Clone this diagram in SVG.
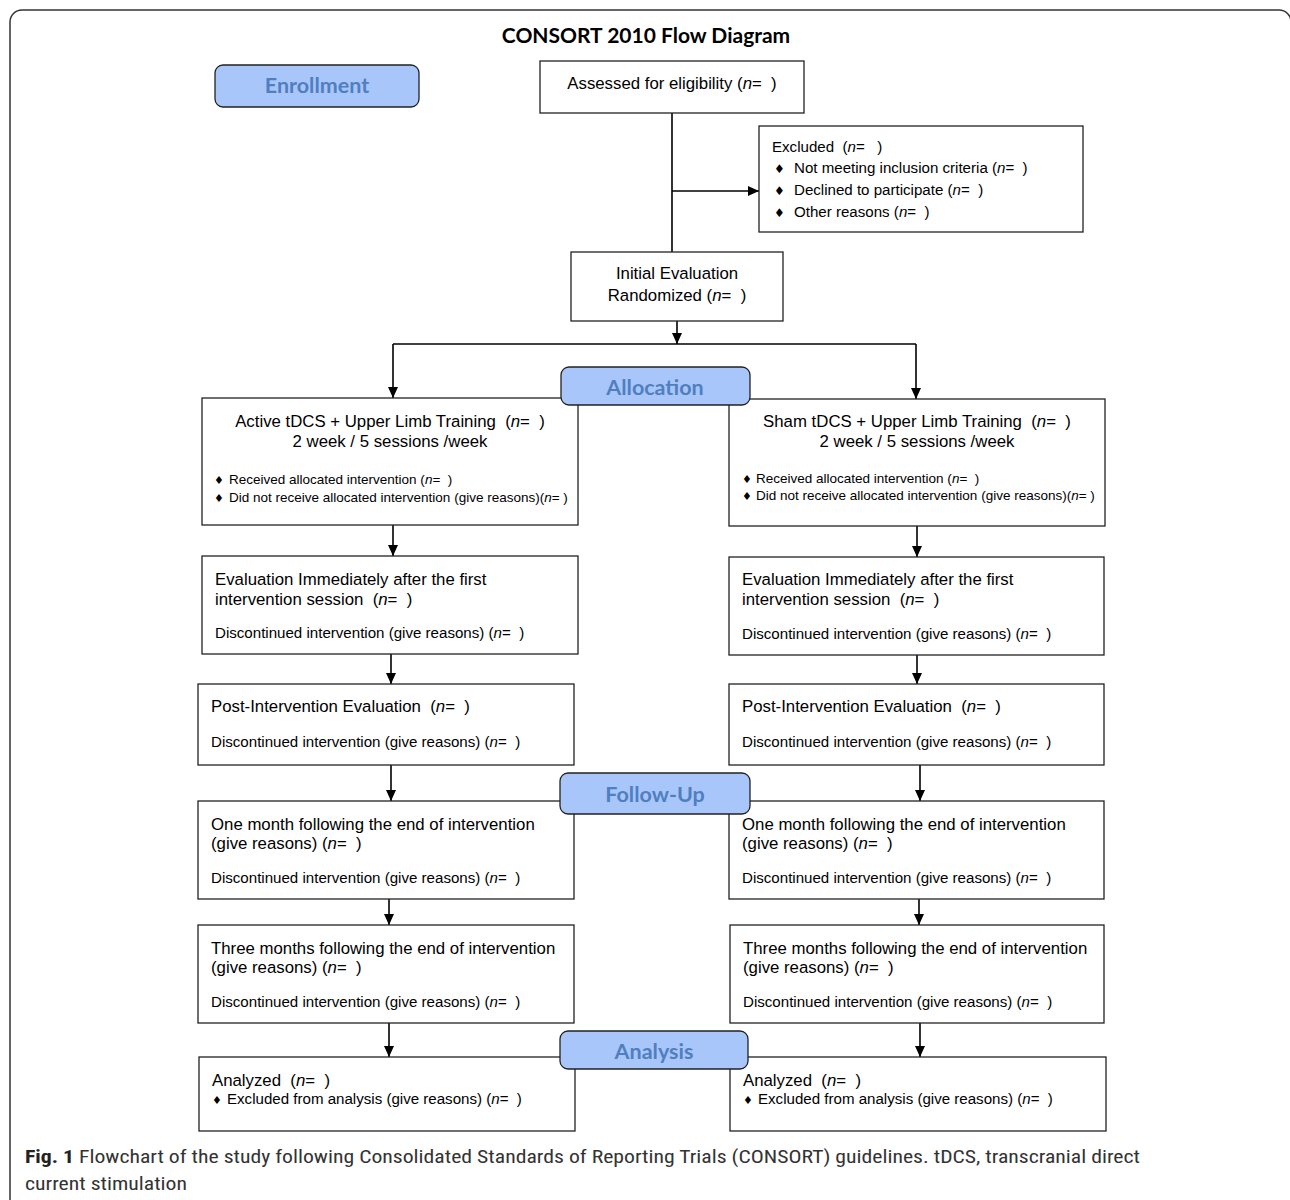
<svg xmlns="http://www.w3.org/2000/svg" width="1290" height="1200" viewBox="0 0 1290 1200">
<defs>
<marker id="ah" markerUnits="userSpaceOnUse" markerWidth="12" markerHeight="12" refX="11" refY="5" orient="auto">
<path d="M0,0 L11,5 L0,10 z" fill="#000"/>
</marker>
<style>
.box{fill:#fff;stroke:#222;stroke-width:1.3}
.lbl{fill:#a9c6fb;stroke:#222;stroke-width:1.3}
.lt{font-family:Lato,"Open Sans","Liberation Sans",sans-serif;font-weight:bold;font-size:21.5px;fill:#4f7fbf;text-anchor:middle}
.t16{font-family:"Liberation Sans",Arial,sans-serif;font-size:16.8px;fill:#000}
.t14{font-family:"Liberation Sans",Arial,sans-serif;font-size:15.1px;fill:#000}
.t13{font-family:"Liberation Sans",Arial,sans-serif;font-size:13.5px;fill:#000}
.c{text-anchor:middle}
.i{font-style:italic}
.d{font-family:"DejaVu Sans",sans-serif;font-size:12px}
.ds{font-family:"DejaVu Sans",sans-serif;font-size:11px}
.ln{fill:none;stroke:#000;stroke-width:1.6}
.cap{font-family:"Liberation Sans Narrow","Roboto Condensed","Open Sans","Liberation Sans",sans-serif;font-size:19px;fill:#333}
</style>
</defs>
<rect x="10" y="10" width="1281" height="1220" rx="12" fill="#fff" stroke="#333" stroke-width="1.5"/>
<text x="646" y="43" text-anchor="middle" font-family="Lato,'Open Sans','Liberation Sans',sans-serif" font-weight="bold" font-size="21" fill="#000">CONSORT 2010 Flow Diagram</text>

<g id="connectors">
<path class="ln" d="M672,113 V252"/>
<path class="ln" d="M672,191 H759" marker-end="url(#ah)"/>
<path class="ln" d="M677,321 V344" marker-end="url(#ah)"/>
<path class="ln" d="M393,344 H916"/>
<path class="ln" d="M393,344 V398" marker-end="url(#ah)"/>
<path class="ln" d="M916,344 V399" marker-end="url(#ah)"/>
<path class="ln" d="M393,525 V556" marker-end="url(#ah)"/>
<path class="ln" d="M917,526 V557" marker-end="url(#ah)"/>
<path class="ln" d="M391,654 V684" marker-end="url(#ah)"/>
<path class="ln" d="M917,655 V684" marker-end="url(#ah)"/>
<path class="ln" d="M391,765 V801" marker-end="url(#ah)"/>
<path class="ln" d="M920,765 V801" marker-end="url(#ah)"/>
<path class="ln" d="M389,899 V925" marker-end="url(#ah)"/>
<path class="ln" d="M919,899 V925" marker-end="url(#ah)"/>
<path class="ln" d="M389,1023 V1057" marker-end="url(#ah)"/>
<path class="ln" d="M920,1023 V1057" marker-end="url(#ah)"/>
</g>

<g id="assessed">
<rect class="box" x="540" y="61" width="264" height="52"/>
<text class="t16 c" x="672" y="89" xml:space="preserve">Assessed for eligibility (<tspan class="i">n</tspan>=  )</text>
</g>
<g id="excluded">
<rect class="box" x="759" y="126" width="324" height="106"/>
<text class="t14" x="772" y="152" xml:space="preserve">Excluded  (<tspan class="i">n</tspan>=   )</text>
<text class="t14" x="774" y="173" xml:space="preserve"><tspan class="d">♦</tspan><tspan x="794">Not meeting inclusion criteria (<tspan class="i">n</tspan>=  )</tspan></text>
<text class="t14" x="774" y="195" xml:space="preserve"><tspan class="d">♦</tspan><tspan x="794">Declined to participate (<tspan class="i">n</tspan>=  )</tspan></text>
<text class="t14" x="774" y="217" xml:space="preserve"><tspan class="d">♦</tspan><tspan x="794">Other reasons (<tspan class="i">n</tspan>=  )</tspan></text>
</g>
<g id="initial">
<rect class="box" x="571" y="252" width="212" height="69"/>
<text class="t16 c" x="677" y="279">Initial Evaluation</text>
<text class="t16 c" x="677" y="301" xml:space="preserve">Randomized (<tspan class="i">n</tspan>=  )</text>
</g>

<g id="active">
<rect class="box" x="202" y="398" width="376" height="127"/>
<text class="t16 c" x="390" y="427" xml:space="preserve">Active tDCS + Upper Limb Training  (<tspan class="i">n</tspan>=  )</text>
<text class="t16 c" x="390" y="447">2 week / 5 sessions /week</text>
<text class="t13" x="214" y="484" xml:space="preserve"><tspan class="ds">♦</tspan><tspan x="229">Received allocated intervention (<tspan class="i">n</tspan>=  )</tspan></text>
<text class="t13" x="214" y="502" xml:space="preserve"><tspan class="ds">♦</tspan><tspan x="229">Did not receive allocated intervention (give reasons)(<tspan class="i">n</tspan>= )</tspan></text>
</g>
<g id="sham">
<rect class="box" x="729" y="399" width="376" height="127"/>
<text class="t16 c" x="917" y="427" xml:space="preserve">Sham tDCS + Upper Limb Training  (<tspan class="i">n</tspan>=  )</text>
<text class="t16 c" x="917" y="447">2 week / 5 sessions /week</text>
<text class="t13" x="742" y="483" xml:space="preserve"><tspan class="ds">♦</tspan><tspan x="756">Received allocated intervention (<tspan class="i">n</tspan>=  )</tspan></text>
<text class="t13" x="742" y="500" xml:space="preserve"><tspan class="ds">♦</tspan><tspan x="756">Did not receive allocated intervention (give reasons)(<tspan class="i">n</tspan>= )</tspan></text>
</g>

<g id="eval-left">
<rect class="box" x="202" y="556" width="376" height="98"/>
<text class="t16" x="215" y="585">Evaluation Immediately after the first</text>
<text class="t16" x="215" y="605" xml:space="preserve">intervention session  (<tspan class="i">n</tspan>=  )</text>
<text class="t14" x="215" y="638" xml:space="preserve">Discontinued intervention (give reasons) (<tspan class="i">n</tspan>=  )</text>
</g>
<g id="eval-right">
<rect class="box" x="729" y="557" width="375" height="98"/>
<text class="t16" x="742" y="585">Evaluation Immediately after the first</text>
<text class="t16" x="742" y="605" xml:space="preserve">intervention session  (<tspan class="i">n</tspan>=  )</text>
<text class="t14" x="742" y="639" xml:space="preserve">Discontinued intervention (give reasons) (<tspan class="i">n</tspan>=  )</text>
</g>

<g id="post-left">
<rect class="box" x="198" y="684" width="376" height="81"/>
<text class="t16" x="211" y="712" xml:space="preserve">Post-Intervention Evaluation  (<tspan class="i">n</tspan>=  )</text>
<text class="t14" x="211" y="747" xml:space="preserve">Discontinued intervention (give reasons) (<tspan class="i">n</tspan>=  )</text>
</g>
<g id="post-right">
<rect class="box" x="729" y="684" width="375" height="81"/>
<text class="t16" x="742" y="712" xml:space="preserve">Post-Intervention Evaluation  (<tspan class="i">n</tspan>=  )</text>
<text class="t14" x="742" y="747" xml:space="preserve">Discontinued intervention (give reasons) (<tspan class="i">n</tspan>=  )</text>
</g>

<g id="month-left">
<rect class="box" x="198" y="801" width="376" height="98"/>
<text class="t16" x="211" y="830">One month following the end of intervention</text>
<text class="t16" x="211" y="849" xml:space="preserve">(give reasons) (<tspan class="i">n</tspan>=  )</text>
<text class="t14" x="211" y="883" xml:space="preserve">Discontinued intervention (give reasons) (<tspan class="i">n</tspan>=  )</text>
</g>
<g id="month-right">
<rect class="box" x="729" y="801" width="375" height="98"/>
<text class="t16" x="742" y="830">One month following the end of intervention</text>
<text class="t16" x="742" y="849" xml:space="preserve">(give reasons) (<tspan class="i">n</tspan>=  )</text>
<text class="t14" x="742" y="883" xml:space="preserve">Discontinued intervention (give reasons) (<tspan class="i">n</tspan>=  )</text>
</g>

<g id="three-left">
<rect class="box" x="198" y="925" width="376" height="98"/>
<text class="t16" x="211" y="954">Three months following the end of intervention</text>
<text class="t16" x="211" y="973" xml:space="preserve">(give reasons) (<tspan class="i">n</tspan>=  )</text>
<text class="t14" x="211" y="1007" xml:space="preserve">Discontinued intervention (give reasons) (<tspan class="i">n</tspan>=  )</text>
</g>
<g id="three-right">
<rect class="box" x="730" y="925" width="374" height="98"/>
<text class="t16" x="743" y="954">Three months following the end of intervention</text>
<text class="t16" x="743" y="973" xml:space="preserve">(give reasons) (<tspan class="i">n</tspan>=  )</text>
<text class="t14" x="743" y="1007" xml:space="preserve">Discontinued intervention (give reasons) (<tspan class="i">n</tspan>=  )</text>
</g>

<g id="analyzed-left">
<rect class="box" x="199" y="1057" width="376" height="74"/>
<text class="t16" x="212" y="1086" xml:space="preserve">Analyzed  (<tspan class="i">n</tspan>=  )</text>
<text class="t14" x="212" y="1104" xml:space="preserve"><tspan class="ds">♦</tspan><tspan x="227">Excluded from analysis (give reasons) (<tspan class="i">n</tspan>=  )</tspan></text>
</g>
<g id="analyzed-right">
<rect class="box" x="730" y="1057" width="376" height="74"/>
<text class="t16" x="743" y="1086" xml:space="preserve">Analyzed  (<tspan class="i">n</tspan>=  )</text>
<text class="t14" x="743" y="1104" xml:space="preserve"><tspan class="ds">♦</tspan><tspan x="758">Excluded from analysis (give reasons) (<tspan class="i">n</tspan>=  )</tspan></text>
</g>

<g id="enrollment">
<rect class="lbl" x="215" y="65" width="204" height="42" rx="8"/>
<text class="lt" x="317" y="93">Enrollment</text>
</g>
<g id="allocation">
<rect class="lbl" x="561" y="367" width="189" height="38" rx="8"/>
<text class="lt" x="655" y="395">Allocation</text>
</g>
<g id="followup">
<rect class="lbl" x="560" y="773" width="190" height="41" rx="8"/>
<text class="lt" x="655" y="802">Follow-Up</text>
</g>
<g id="analysis">
<rect class="lbl" x="560" y="1031" width="188" height="38" rx="8"/>
<text class="lt" x="654" y="1059">Analysis</text>
</g>

<text class="cap" x="25" y="1163" textLength="1115" lengthAdjust="spacingAndGlyphs"><tspan font-weight="bold" fill="#222">Fig. 1</tspan> Flowchart of the study following Consolidated Standards of Reporting Trials (CONSORT) guidelines. tDCS, transcranial direct</text>
<text class="cap" x="25" y="1190" textLength="162" lengthAdjust="spacingAndGlyphs">current stimulation</text>
</svg>
